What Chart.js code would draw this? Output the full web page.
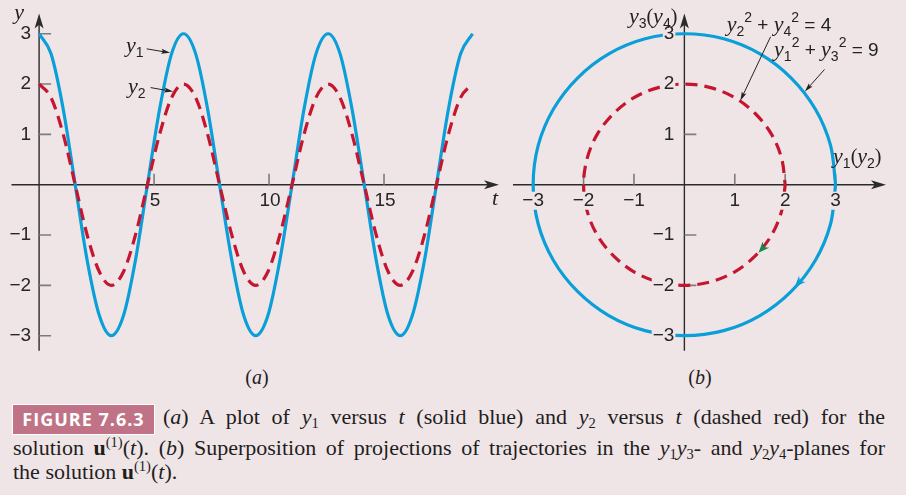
<!doctype html>
<html lang="en">
<head>
<meta charset="utf-8">
<title>Figure 7.6.3</title>
<script src="https://cdn.jsdelivr.net/npm/chart.js"></script>
<style>
  body { margin: 0; background: #f0e5e6; }
  #wrap { position: relative; width: 906px; height: 495px; overflow: hidden; background: #f0e5e6; }
  canvas { position: absolute; left: 0; top: 0; }
  .panel { position: absolute; top: 366px; font: 20px "Liberation Serif", serif; color: #222; transform: translateX(-50%); }
  .cap { position: absolute; font: 22px "Liberation Serif", serif; color: #1e1e1e; white-space: nowrap; line-height: 24px; }
  .just { text-align: justify; text-align-last: justify; }
  .cap sub, .cap sup { font-size: 0.66em; line-height: 0; }
  .cap sub { vertical-align: -0.25em; }
  .cap sup { vertical-align: 0.55em; }
  #tag { position: absolute; left: 12px; top: 404px; width: 141px; height: 29px; background: #c07386;
         border: 1px solid #fff; color: #fff; font: bold 18px "Open Sans", sans-serif; letter-spacing: 1px;
         text-align: center; line-height: 29px; }
</style>
</head>
<body>
<div id="wrap">
  <canvas id="chartA" width="906" height="360"></canvas>
  <canvas id="chartB" width="906" height="360"></canvas>
  <div class="panel" style="left:257px">(<i>a</i>)</div>
  <div class="panel" style="left:700px">(<i>b</i>)</div>
  <div id="tag">FIGURE 7.6.3</div>
  <div class="cap just" style="left:163px;top:405px;width:722px">(<i>a</i>) A plot of <i>y</i><sub>1</sub> versus <i>t</i> (solid blue) and <i>y</i><sub>2</sub> versus <i>t</i> (dashed red) for the</div>
  <div class="cap just" style="left:13px;top:436px;width:872px">solution <b>u</b><sup>(1)</sup>(<i>t</i>). (<i>b</i>) Superposition of projections of trajectories in the <i>y</i><sub>1</sub><i>y</i><sub>3</sub>- and <i>y</i><sub>2</sub><i>y</i><sub>4</sub>-planes for</div>
  <div class="cap" style="left:13px;top:460px">the solution <b>u</b><sup>(1)</sup>(<i>t</i>).</div>
</div>
<script>
const tVals = [0, 0.52, 1.05, 1.57, 2.09, 2.62, 3.14, 3.67, 4.19, 4.71, 5.24, 5.76,
               6.28, 6.81, 7.33, 7.85, 8.38, 8.90, 9.42, 9.95, 10.47, 11.00, 11.52, 12.04,
               12.57, 13.09, 13.61, 14.14, 14.66, 15.18, 15.71, 16.23, 16.76, 17.28, 17.80, 18.33, 18.85];
const y1Vals = [3, 2.6, 1.5, 0, -1.5, -2.6, -3, -2.6, -1.5, 0, 1.5, 2.6,
                3, 2.6, 1.5, 0, -1.5, -2.6, -3, -2.6, -1.5, 0, 1.5, 2.6,
                3, 2.6, 1.5, 0, -1.5, -2.6, -3, -2.6, -1.5, 0, 1.5, 2.6, 3];
const y2Vals = [2, 1.73, 1, 0, -1, -1.73, -2, -1.73, -1, 0, 1, 1.73,
                2, 1.73, 1, 0, -1, -1.73, -2, -1.73, -1, 0, 1, 1.73,
                2, 1.73, 1, 0, -1, -1.73, -2, -1.73, -1, 0, 1, 1.73, 2];

// (b) trajectories: y1 vs y3 (outer) and y2 vs y4 (inner), clockwise from the positive axis
const y1Orbit = [3, 2.9, 2.6, 2.12, 1.5, 0.78, 0, -0.78, -1.5, -2.12, -2.6, -2.9, -3,
                 -2.9, -2.6, -2.12, -1.5, -0.78, 0, 0.78, 1.5, 2.12, 2.6, 2.9, 3];
const y3Orbit = [0, -0.78, -1.5, -2.12, -2.6, -2.9, -3, -2.9, -2.6, -2.12, -1.5, -0.78, 0,
                 0.78, 1.5, 2.12, 2.6, 2.9, 3, 2.9, 2.6, 2.12, 1.5, 0.78, 0];
const y2Orbit = [2, 1.93, 1.73, 1.41, 1, 0.52, 0, -0.52, -1, -1.41, -1.73, -1.93, -2,
                 -1.93, -1.73, -1.41, -1, -0.52, 0, 0.52, 1, 1.41, 1.73, 1.93, 2];
const y4Orbit = [0, -0.52, -1, -1.41, -1.73, -1.93, -2, -1.93, -1.73, -1.41, -1, -0.52, 0,
                 0.52, 1, 1.41, 1.73, 1.93, 2, 1.93, 1.73, 1.41, 1, 0.52, 0];

const tTicks = [5, 10, 15];
const yTicksA = [-3, -2, -1, 1, 2, 3];
const xTicksB = [-3, -2, -1, 1, 2, 3];
const yTicksB = [-3, -2, -1, 1, 2, 3];

const BG = '#f0e5e6';
const BLUE = '#0a9fd8';
const RED = '#c4162f';

function tickText(v) { return v < 0 ? '\u2212' + Math.abs(v) : String(v); }

// math-ish text: v = italic variable, r = roman, b = subscript, p = superscript
const FONTS = {
  v: ['italic 22px "Liberation Serif", serif', 0],
  r: ['20px "Liberation Serif", serif', 0],
  s: ['19px "Liberation Sans", sans-serif', 0],
  b: ['14px "Liberation Sans", sans-serif', 5],
  p: ['14px "Liberation Sans", sans-serif', -9]
};
function mathText(ctx, parts, x, y, align) {
  let w = 0;
  parts.forEach(([txt, k]) => { ctx.font = FONTS[k][0]; w += ctx.measureText(txt).width; });
  let cx = align === 'right' ? x - w : x;
  ctx.textAlign = 'left';
  ctx.textBaseline = 'alphabetic';
  parts.forEach(([txt, k]) => {
    ctx.font = FONTS[k][0];
    ctx.fillText(txt, cx, y + FONTS[k][1]);
    cx += ctx.measureText(txt).width;
  });
}

function arrowHead(ctx, x, y, ang, len, wid, color, notch) {
  ctx.save();
  ctx.translate(x, y);
  ctx.rotate(ang);
  ctx.beginPath();
  ctx.moveTo(0, 0);
  ctx.lineTo(-len, -wid / 2);
  ctx.lineTo(-len * notch, 0);
  ctx.lineTo(-len, wid / 2);
  ctx.closePath();
  ctx.fillStyle = color;
  ctx.fill();
  ctx.restore();
}

const axesPlugin = {
  id: 'axes',
  beforeDatasetsDraw(chart, args, o) {
    const ctx = chart.ctx, xs = chart.scales.x, ys = chart.scales.y;
    const x0 = xs.getPixelForValue(0), y0 = ys.getPixelForValue(0);
    ctx.save();
    ctx.strokeStyle = '#2b2b2b';
    ctx.lineWidth = 1.4;
    ctx.beginPath();
    ctx.moveTo(xs.left, y0); ctx.lineTo(xs.right - 6, y0);
    ctx.moveTo(x0, ys.bottom); ctx.lineTo(x0, ys.top + 6);
    ctx.stroke();
    arrowHead(ctx, xs.right, y0, 0, 15, 9, '#2b2b2b', 0.75);
    arrowHead(ctx, x0, ys.top, -Math.PI / 2, 15, 9, '#2b2b2b', 0.75);
    ctx.strokeStyle = '#7c7c7c';
    ctx.lineWidth = 1.6;
    ctx.beginPath();
    o.xTicks.forEach(v => { const p = xs.getPixelForValue(v); ctx.moveTo(p, y0); ctx.lineTo(p, y0 - 11); });
    o.yTicks.forEach(v => { const p = ys.getPixelForValue(v); ctx.moveTo(x0, p); ctx.lineTo(x0 + 12, p); });
    ctx.stroke();
    ctx.restore();
  },
  afterDatasetsDraw(chart, args, o) {
    const ctx = chart.ctx, xs = chart.scales.x, ys = chart.scales.y;
    const x0 = xs.getPixelForValue(0), y0 = ys.getPixelForValue(0);
    const px = v => xs.getPixelForValue(v), py = v => ys.getPixelForValue(v);
    ctx.save();
    ctx.font = '19px "Liberation Sans", sans-serif';
    ctx.textBaseline = 'middle';
    const label = (txt, x, y, align) => {
      ctx.textAlign = align;
      const w = ctx.measureText(txt).width;
      if (o.mask) {
        const lx = align === 'right' ? x - w : x - w / 2;
        ctx.fillStyle = BG;
        ctx.fillRect(lx - 1, y - 9, w + 2, 18);
      }
      ctx.fillStyle = '#262626';
      ctx.fillText(txt, x, y);
    };
    o.xTicks.forEach(v => label(tickText(v), px(v) + o.xShift, y0 + 16, 'center'));
    o.yTicks.forEach(v => label(tickText(v), x0 - o.yGap, py(v), 'right'));

    ctx.fillStyle = '#222';
    o.texts.forEach(t => mathText(ctx, t.parts, px(t.at[0]), py(t.at[1]), t.align));

    ctx.strokeStyle = '#222';
    ctx.lineWidth = 1;
    o.pointers.forEach(a => {
      const x1 = px(a.from[0]), y1 = py(a.from[1]), x2 = px(a.to[0]), y2 = py(a.to[1]);
      const ang = Math.atan2(y2 - y1, x2 - x1);
      ctx.beginPath();
      ctx.moveTo(x1, y1);
      ctx.lineTo(x2 - 6 * Math.cos(ang), y2 - 6 * Math.sin(ang));
      ctx.stroke();
      arrowHead(ctx, x2, y2, ang, 9, 5, '#222', 0.8);
    });
    (o.heads || []).forEach(h => {
      const ang = Math.atan2(-h.dir[1], h.dir[0]);
      arrowHead(ctx, px(h.at[0]), py(h.at[1]), ang, 11, 9, h.color, 0.7);
    });
    ctx.restore();
  }
};

function baseOptions(xMin, xMax, pad, axesOpts) {
  return {
    responsive: false,
    animation: false,
    events: [],
    layout: { padding: pad },
    scales: {
      x: { type: 'linear', min: xMin, max: xMax, display: false },
      y: { type: 'linear', min: -3.3, max: 3.4, display: false }
    },
    elements: { point: { radius: 0 } },
    plugins: { legend: { display: false }, tooltip: { enabled: false }, axes: axesOpts }
  };
}

new Chart(document.getElementById('chartA'), {
  type: 'line',
  data: {
    datasets: [
      { data: tVals.map((t, i) => ({ x: t, y: y2Vals[i] })), borderColor: RED, borderWidth: 3.2,
        borderDash: [12, 7], cubicInterpolationMode: 'monotone', fill: false },
      { data: tVals.map((t, i) => ({ x: t, y: y1Vals[i] })), borderColor: BLUE, borderWidth: 3.2,
        cubicInterpolationMode: 'monotone', fill: false }
    ]
  },
  options: baseOptions(-1.2, 20, { left: 11.5, right: 407, top: 13.6, bottom: 9.2 }, {
    xTicks: tTicks, yTicks: yTicksA, xShift: 1, yGap: 8, mask: false,
    texts: [
      { parts: [['y', 'v']], at: [-1.08, 3.3] },
      { parts: [['t', 'v']], at: [19.7, -0.4] },
      { parts: [['y', 'v'], ['1', 'b']], at: [3.78, 2.63] },
      { parts: [['y', 'v'], ['2', 'b']], at: [3.87, 1.83] }
    ],
    pointers: [
      { from: [4.68, 2.7], to: [5.7, 2.62] },
      { from: [4.85, 1.93], to: [5.83, 1.85] }
    ]
  }),
  plugins: [axesPlugin]
});

new Chart(document.getElementById('chartB'), {
  type: 'line',
  data: {
    datasets: [
      { data: y1Orbit.map((v, i) => ({ x: v, y: y3Orbit[i] })), borderColor: BLUE, borderWidth: 3.2,
        tension: 0.338, fill: false },
      { data: y2Orbit.map((v, i) => ({ x: v, y: y4Orbit[i] })), borderColor: RED, borderWidth: 3.2,
        borderDash: [12, 7], tension: 0.338, fill: false }
    ]
  },
  options: baseOptions(-3.4, 4.0, { left: 513, right: 20, top: 13.6, bottom: 9.2 }, {
    xTicks: xTicksB, yTicks: yTicksB, xShift: 0, yGap: 10, mask: true,
    texts: [
      { parts: [['y', 'v'], ['3', 'b'], ['(', 'r'], ['y', 'v'], ['4', 'b'], [')', 'r']], at: [-0.14, 3.22], align: 'right' },
      { parts: [['y', 'v'], ['1', 'b'], ['(', 'r'], ['y', 'v'], ['2', 'b'], [')', 'r']], at: [2.95, 0.43] },
      { parts: [['y', 'v'], ['2', 'b'], ['2', 'p'], [' + ', 's'], ['y', 'v'], ['4', 'b'], ['2', 'p'], [' = 4', 's']], at: [0.84, 3.05] },
      { parts: [['y', 'v'], ['1', 'b'], ['2', 'p'], [' + ', 's'], ['y', 'v'], ['3', 'b'], ['2', 'p'], [' = 9', 's']], at: [1.78, 2.55] }
    ],
    pointers: [
      { from: [1.71, 2.94], to: [1.11, 1.67] },
      { from: [2.78, 2.29], to: [2.39, 1.85] }
    ],
    heads: [
      { at: [2.19, -2.03], dir: [-0.68, -0.73], color: BLUE },
      { at: [1.47, -1.35], dir: [-0.68, -0.73], color: '#138a4f' }
    ]
  }),
  plugins: [axesPlugin]
});
</script>
</body>
</html>
